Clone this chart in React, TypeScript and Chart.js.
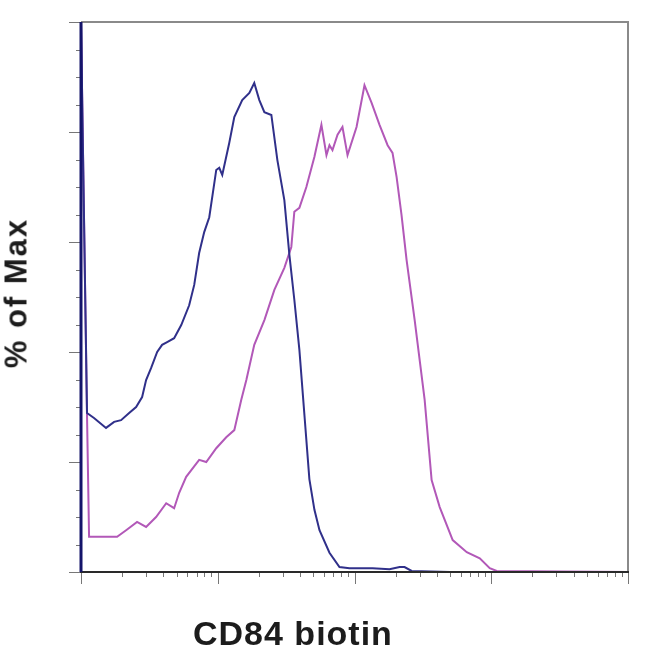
import React, { useEffect, useRef } from "react";
import { Chart, registerables } from "chart.js";

Chart.register(...registerables);

// x values are in log decades of fluorescence (0..4), y values in % of Max
const blueX = [0, 0, 0.044, 0.095, 0.183, 0.242, 0.293, 0.352, 0.403, 0.447, 0.476, 0.513, 0.557, 0.593, 0.63, 0.681, 0.733, 0.791, 0.828, 0.864, 0.901, 0.938, 0.989, 1.011, 1.033, 1.084, 1.121, 1.179, 1.231, 1.267, 1.304, 1.341, 1.392, 1.436, 1.487, 1.524, 1.56, 1.597, 1.634, 1.67, 1.707, 1.744, 1.817, 1.89, 1.963, 2.132, 2.256, 2.33, 2.366, 2.418, 2.696, 4.0];
const blueY = [0, 100, 28.9, 28.0, 26.2, 27.3, 27.6, 28.9, 30.0, 31.8, 34.9, 37.1, 40.0, 41.3, 41.8, 42.5, 44.9, 48.5, 52.2, 58.0, 61.8, 64.5, 73.1, 73.5, 72.2, 78.0, 82.7, 85.8, 87.1, 88.9, 85.8, 83.6, 83.1, 74.9, 67.6, 57.6, 49.5, 40.4, 28.5, 16.9, 11.3, 7.6, 3.5, 0.9, 0.7, 0.7, 0.5, 0.9, 0.9, 0.2, 0, 0];

const magentaX = [0, 0, 0.044, 0.059, 0.264, 0.33, 0.41, 0.476, 0.549, 0.623, 0.681, 0.718, 0.769, 0.864, 0.916, 0.989, 1.062, 1.121, 1.172, 1.209, 1.267, 1.341, 1.414, 1.487, 1.538, 1.56, 1.597, 1.648, 1.707, 1.758, 1.795, 1.817, 1.839, 1.876, 1.912, 1.949, 2.015, 2.073, 2.125, 2.183, 2.242, 2.278, 2.308, 2.344, 2.381, 2.44, 2.513, 2.564, 2.623, 2.718, 2.821, 2.916, 2.989, 3.04, 4.0];
const magentaY = [0, 100, 28.5, 6.4, 6.4, 7.6, 9.1, 8.2, 10.0, 12.5, 11.6, 14.4, 17.3, 20.4, 20.0, 22.5, 24.5, 25.8, 31.3, 34.9, 41.3, 45.8, 51.3, 55.3, 59.1, 65.5, 66.2, 70.0, 75.5, 81.3, 75.8, 77.6, 76.7, 79.5, 80.9, 75.8, 80.9, 88.5, 85.3, 81.3, 77.6, 76.2, 71.8, 64.9, 56.7, 45.8, 31.3, 16.7, 11.8, 5.8, 3.6, 2.5, 0.7, 0.2, 0];

const xMajorTicks = [0, 1, 2, 3, 4];
const xMinorMultipliers = [2, 3, 4, 5, 6, 7, 8, 9];
const yMajorTicks = [0, 20, 40, 60, 80, 100];
const yMinorTicks = [5, 10, 15, 25, 30, 35, 45, 50, 55, 65, 70, 75, 85, 90, 95];

const xTitle = "CD84 biotin";
const yTitle = "% of Max";

const toPoints = (xs: number[], ys: number[]) => xs.map((x, i) => ({ x, y: ys[i] }));

const framePlugin = {
  id: "flowFrame",
  beforeDatasetsDraw(chart: any) {
    const { ctx, chartArea: a } = chart;
    ctx.save();
    ctx.strokeStyle = "#8a8a8a";
    ctx.lineWidth = 2;
    ctx.beginPath();
    ctx.moveTo(a.left, a.top);
    ctx.lineTo(a.right, a.top);
    ctx.lineTo(a.right, a.bottom);
    ctx.stroke();
    ctx.restore();
  },
  afterDatasetsDraw(chart: any) {
    const { ctx, chartArea: a } = chart;
    const xs = chart.scales.x;
    const ys = chart.scales.y;
    ctx.save();
    // ticks
    ctx.strokeStyle = "#777";
    ctx.lineWidth = 1;
    const xMinor: number[] = [];
    for (let d = 0; d < xMajorTicks.length - 1; d++) {
      for (const m of xMinorMultipliers) xMinor.push(xMajorTicks[d] + Math.log10(m));
    }
    ctx.beginPath();
    for (const v of xMajorTicks) {
      const p = Math.round(xs.getPixelForValue(v)) + 0.5;
      ctx.moveTo(p, a.bottom);
      ctx.lineTo(p, a.bottom + 12);
    }
    for (const v of xMinor) {
      const p = Math.round(xs.getPixelForValue(v)) + 0.5;
      ctx.moveTo(p, a.bottom);
      ctx.lineTo(p, a.bottom + 5);
    }
    for (const v of yMajorTicks) {
      const p = Math.round(ys.getPixelForValue(v)) + 0.5;
      ctx.moveTo(a.left, p);
      ctx.lineTo(a.left - 12, p);
    }
    for (const v of yMinorTicks) {
      const p = Math.round(ys.getPixelForValue(v)) + 0.5;
      ctx.moveTo(a.left, p);
      ctx.lineTo(a.left - 5, p);
    }
    ctx.stroke();
    // bottom axis
    ctx.strokeStyle = "#2a2a2a";
    ctx.lineWidth = 2;
    ctx.beginPath();
    ctx.moveTo(a.left - 1, a.bottom);
    ctx.lineTo(a.right + 1, a.bottom);
    ctx.stroke();
    // left axis (navy, overlaps the first-bin spike)
    ctx.strokeStyle = "#14146a";
    ctx.lineWidth = 3;
    ctx.beginPath();
    ctx.moveTo(a.left, a.top);
    ctx.lineTo(a.left, a.bottom);
    ctx.stroke();
    ctx.restore();
  },
};

export default function App() {
  const canvasRef = useRef<HTMLCanvasElement | null>(null);

  useEffect(() => {
    if (!canvasRef.current) return;
    const chart = new Chart(canvasRef.current, {
      type: "line",
      data: {
        datasets: [
          {
            label: "isotype",
            data: toPoints(blueX, blueY),
            borderColor: "#30308a",
            borderWidth: 2,
            pointRadius: 0,
            tension: 0,
            fill: false,
          },
          {
            label: "CD84",
            data: toPoints(magentaX, magentaY),
            borderColor: "#b258b8",
            borderWidth: 2,
            pointRadius: 0,
            tension: 0,
            fill: false,
          },
        ],
      },
      options: {
        animation: false,
        responsive: false,
        devicePixelRatio: 1,
        parsing: false as any,
        layout: { padding: { left: 81, top: 22, right: 22, bottom: 82 } },
        plugins: { legend: { display: false }, tooltip: { enabled: false } },
        scales: {
          x: { type: "linear", min: 0, max: 4, display: false },
          y: { type: "linear", min: 0, max: 100, display: false },
        },
      },
      plugins: [framePlugin],
    });
    return () => chart.destroy();
  }, []);

  return (
    <div style={{ position: "absolute", left: 0, top: 0, width: 650, height: 654, background: "#fff" }}>
      <canvas ref={canvasRef} width={650} height={654} style={{ position: "absolute", left: 0, top: 0 }} />
      <div
        style={{
          position: "absolute",
          left: 193,
          top: 616,
          font: "bold 34px 'Liberation Sans', Arial, sans-serif",
          lineHeight: "34px",
          letterSpacing: "1px",
          color: "#1c1c1c",
          whiteSpace: "nowrap",
        }}
      >
        {xTitle}
      </div>
      <div
        style={{
          position: "absolute",
          left: 16,
          top: 293,
          transform: "translate(-50%, -50%) rotate(-90deg)",
          font: "bold 31px 'Liberation Sans', Arial, sans-serif",
          lineHeight: "31px",
          letterSpacing: "2px",
          color: "#1c1c1c",
          whiteSpace: "nowrap",
        }}
      >
        {yTitle}
      </div>
    </div>
  );
}
